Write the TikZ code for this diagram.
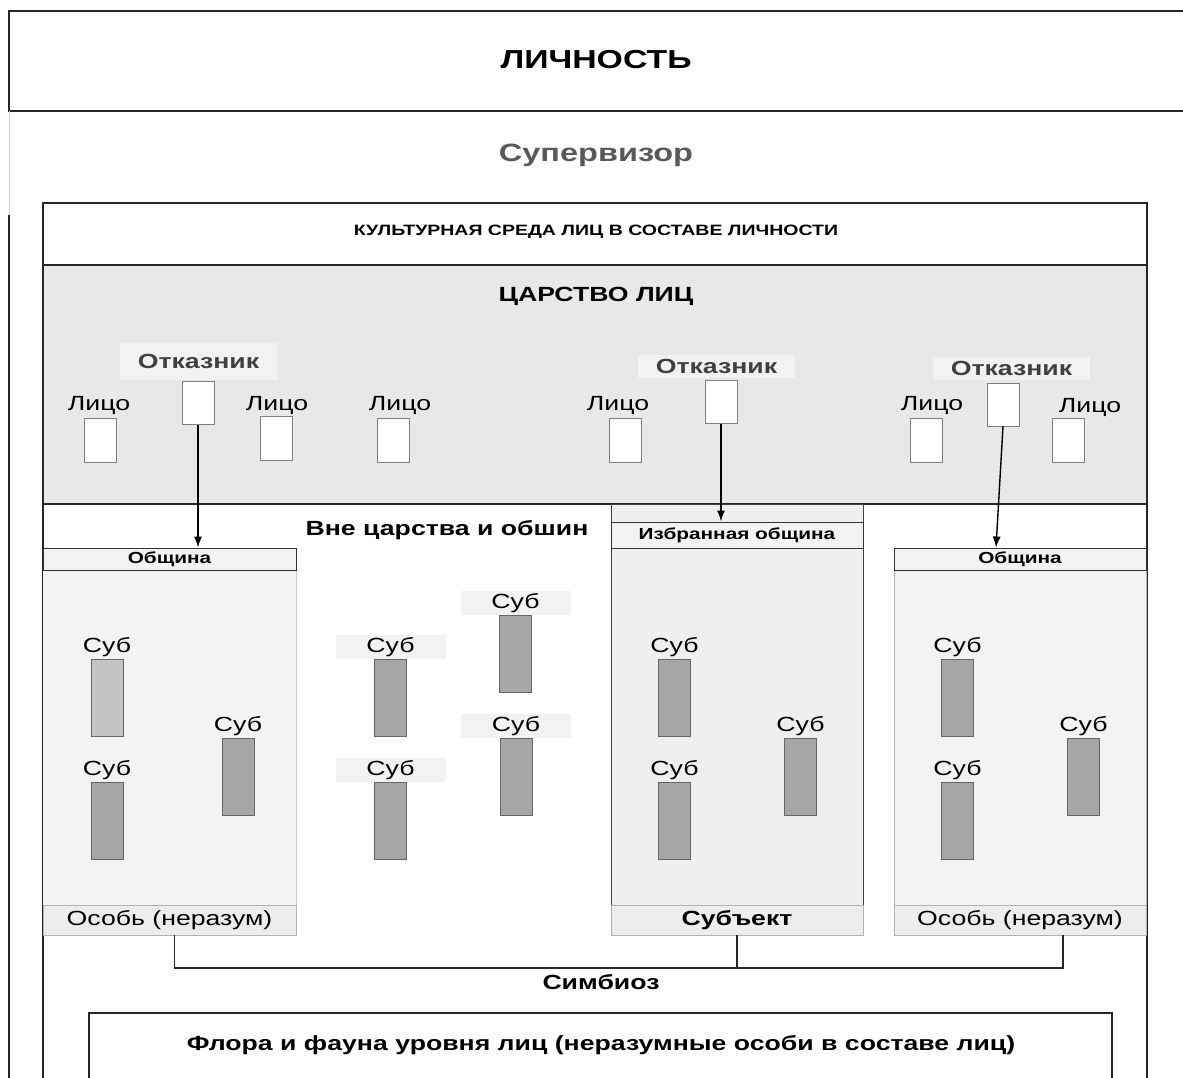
\documentclass[tikz,border=0pt]{standalone}
\usepackage{fontspec}
\setmainfont{Liberation Sans}[FakeStretch=1.3]
\usetikzlibrary{positioning,arrows.meta}
\definecolor{realm}{HTML}{E8E8E8}
\definecolor{commun}{HTML}{F3F3F3}
\definecolor{chosen}{HTML}{EFEFEF}
\definecolor{tagbg}{HTML}{F2F2F2}
\definecolor{footbg}{HTML}{EDEDED}
\definecolor{subfill}{HTML}{A6A6A6}
\definecolor{subpale}{HTML}{C4C4C4}
\definecolor{refuser}{HTML}{404040}
\definecolor{superv}{HTML}{595959}
\tikzset{
    bigtxt/.style={font=\bfseries\fontsize{26}{30}\selectfont, inner sep=0pt},
    headtxt/.style={font=\bfseries\fontsize{20.5}{24}\selectfont, inner sep=0pt},
    normtxt/.style={font=\fontsize{20.5}{24}\selectfont, inner sep=0pt},
    hdrbar/.style={draw=black!80, line width=1pt, fill=tagbg, minimum width=253pt, inner sep=0pt, font=\bfseries\fontsize{16}{19}\selectfont},
    footbar/.style={draw=gray!60, fill=footbg, minimum width=253pt, minimum height=30pt, inner sep=0pt, font=\fontsize{20.5}{24}\selectfont},
    face/.style={draw=gray, fill=white, minimum width=32pt, minimum height=44pt, inner sep=0pt},
    subj/.style={draw=gray!80!black, minimum width=32pt, minimum height=77pt, inner sep=0pt},
    subtag/.style={normtxt, minimum width=110pt, minimum height=24pt},
    reftag/.style={headtxt, text=refuser, fill=tagbg, minimum width=157pt},
    frame/.style={line width=1.5pt, black!85},
    refarrow/.style={-{Latex[length=11pt,width=8pt]}, line width=1.4pt}
}
\begin{document}
\begin{tikzpicture}[x=1pt,y=-1pt]
    \useasboundingbox (0,0) rectangle (1183,1077);
    \draw[frame] (1190,11) -- (9,11) -- (9,111) -- (1190,111);
    \draw[gray!35, line width=1pt] (9,111) -- (9,215);
    \draw[frame] (9,215) -- (9,1090);
    \node[bigtxt] (lichnost) at (596,60) {ЛИЧНОСТЬ};
    \node[bigtxt, font=\bfseries\fontsize{25}{29}\selectfont, text=superv] (supervisor) at (596,155) {Супервизор};

    \fill[realm] (43,265) rectangle (1147,504);
    \draw[frame] (43,1090) -- (43,203) -- (1147,203) -- (1147,1090);
    \draw[frame] (43,265) -- (1147,265) (43,504) -- (1147,504);
    \node[headtxt, font=\bfseries\fontsize{15}{18}\selectfont] (culture) at (596,232) {КУЛЬТУРНАЯ СРЕДА ЛИЦ В СОСТАВЕ ЛИЧНОСТИ};
    \node[headtxt] (tsarstvo) at (596,296) {ЦАРСТВО ЛИЦ};

    \fill[commun] (43,570) rectangle (296,905);
    \draw[gray!40] (296,570) -- (296,905);
    \node[hdrbar, minimum height=22pt] (hdr1) at (169.5,559) {Община};
    \node[footbar] (foot1) at (169.5,920) {Особь (неразум)};

    \fill[chosen] (611,504) rectangle (863,905);
    \draw[black!75, line width=1pt] (611,504) rectangle (863,905);
    \node[hdrbar, minimum width=252pt, minimum height=26pt] (hdr2) at (737,535) {Избранная община};
    \node[footbar, minimum width=252pt, font=\bfseries\fontsize{20.5}{24}\selectfont] (foot2) at (737,920) {Субъект};

    \fill[commun] (894,570) rectangle (1146,905);
    \draw[gray!60] (894,570) rectangle (1146,905);
    \node[hdrbar, minimum width=252pt, minimum height=22pt] (hdr3) at (1020,559) {Община};
    \node[footbar, minimum width=252pt] (foot3) at (1020,920) {Особь (неразум)};

    \foreach \n/\x/\y/\lx/\ly in {1/100/440/99/405, 2/276/438/277/405, 3/393/440/400/405, 4/625/440/618/405, 5/926/440/932/405, 6/1068/440/1090/407}{
        \node[face] (face\n) at (\x,\y) {};
        \node[normtxt] (facelbl\n) at (\lx,\ly) {Лицо};
    }

    \foreach \n/\x/\y/\lx/\ly/\h in {1/198/403/198.5/361.5/37, 2/721/402/716.5/366.5/23, 3/1003/404.5/1011.5/368.5/23}{
        \node[reftag, minimum height=\h pt] (reflbl\n) at (\lx,\ly) {Отказник};
        \node[face, minimum height=43pt] (ref\n) at (\x,\y) {};
    }
    \draw[refarrow] (ref1.south) -- (ref1.south |- hdr1.north);
    \draw[refarrow] (ref2.south) -- (ref2.south |- hdr2.north);
    \draw[refarrow] (ref3.south) -- ([xshift=-7pt]ref3.south |- hdr3.north);

    \node[headtxt] (outside) at (447,530) {Вне царства и обшин};

    \foreach \n/\x/\y/\c/\t in {1/107/697.5/subpale/none, 2/107/820.5/subfill/none, 3/238/776.5/subfill/none,
        4/390.5/697.5/subfill/tagbg, 5/390.5/820.5/subfill/tagbg, 6/515.5/653.5/subfill/tagbg, 7/516/776.5/subfill/tagbg,
        8/674.5/697.5/subfill/none, 9/674.5/820.5/subfill/none, 10/800.5/776.5/subfill/none,
        11/957.5/697.5/subfill/none, 12/957.5/820.5/subfill/none, 13/1083.5/776.5/subfill/none}{
        \node[subj, fill=\c] (sub\n) at (\x,\y) {};
        \node[subtag, fill=\t, above=0pt of sub\n] (sublbl\n) {Суб};
    }

    \draw[frame] ([xshift=5pt]foot1.south) -- ++(0,33) -| ([xshift=43pt]foot3.south);
    \draw[frame] (foot2.south) -- ++(0,33);
    \node[headtxt] (symbiosis) at (601,982) {Симбиоз};

    \draw[frame] (89,1090) -- (89,1013) -- (1112,1013) -- (1112,1090);
    \node[headtxt] (flora) at (601,1045) {Флора и фауна уровня лиц (неразумные особи в составе лиц)};
\end{tikzpicture}
\end{document}
